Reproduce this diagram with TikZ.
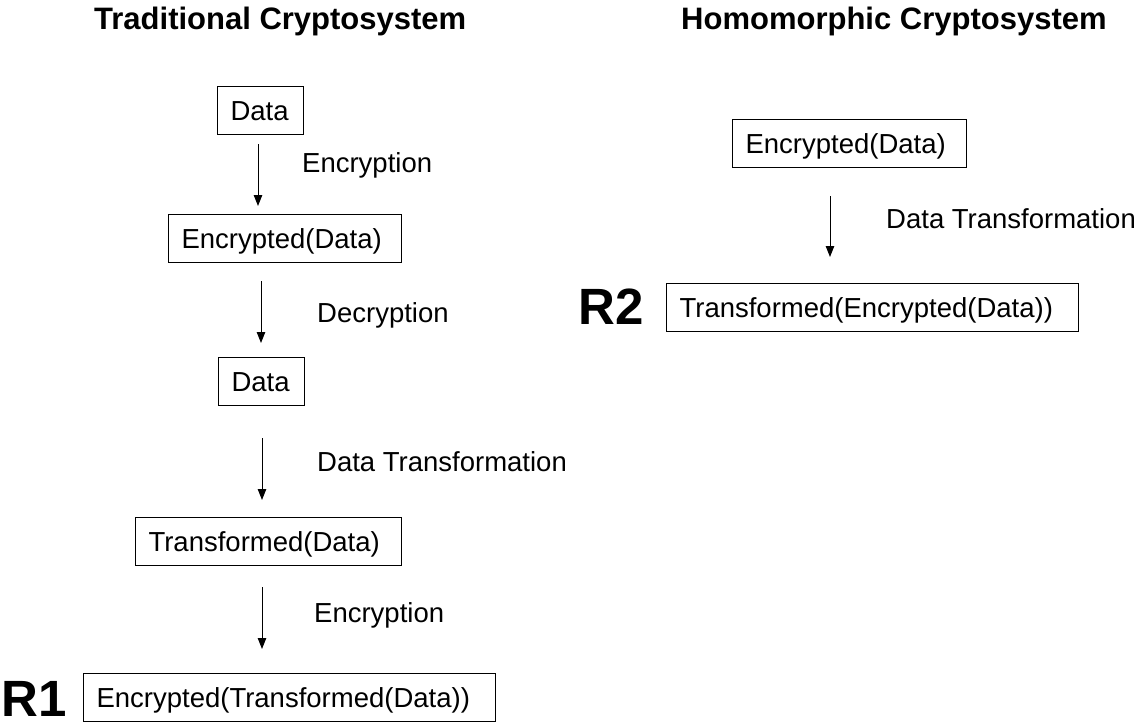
\documentclass[tikz,border=0pt]{standalone}
\usepackage{fontspec}
\setmainfont{Liberation Sans}
\usetikzlibrary{arrows.meta}
\begin{document}
\begin{tikzpicture}[x=1pt,y=-1pt,
  box/.style={draw, line width=1.1pt, anchor=north west, minimum height=48pt,
    inner xsep=13pt, inner ysep=0pt, align=left, text height=26.6pt, text depth=6.9pt,
    font=\fontsize{27.5}{33}\selectfont},
  lbl/.style={anchor=base west, inner sep=0pt, font=\fontsize{27.5}{33}\selectfont},
  ttl/.style={anchor=base west, inner sep=0pt, font=\fontsize{31}{37}\selectfont\bfseries},
  rlab/.style={anchor=base west, inner sep=0pt, text depth=0pt, font=\fontsize{51}{60}\selectfont\bfseries},
  arr/.style={-{Triangle[length=11pt,width=8.5pt]}, line width=1pt}]
\fill[white] (0,0) rectangle (1135,723);
\useasboundingbox (0,0) rectangle (1135,723);

% titles
\node[ttl] (t1title) at (94,29) {Traditional Cryptosystem};
\node[ttl] (t2title) at (681,29) {Homomorphic Cryptosystem};

% left column boxes
\node[box, text width=60pt]  (d1) at (217,86)  {Data};
\node[box, text width=207pt] (e1) at (168,214) {Encrypted(Data)};
\node[box, text width=60pt]  (d2) at (218,357) {Data};
\node[box, text width=240pt] (tr) at (135,517) {Transformed(Data)};
\node[box, text width=386pt] (r1) at (83,673)  {Encrypted(Transformed(Data))};
\node[rlab] (r1lab) at (1,716) {R1};

% right column boxes
\node[box, text width=208pt] (e2) at (732,119) {Encrypted(Data)};
\node[box, text width=386pt] (r2) at (666,283) {Transformed(Encrypted(Data))};
\node[rlab] (r2lab) at (578,324) {R2};

% arrow columns
\coordinate (cA) at (258,0);
\coordinate (cB) at (261,0);
\coordinate (cC) at (262,0);
\coordinate (cD) at (830,0);

\draw[arr, shorten <=9pt, shorten >=8pt]   (d1.south -| cA) -- (e1.north -| cA);
\draw[arr, shorten <=18pt, shorten >=14pt] (e1.south -| cB) -- (d2.north -| cB);
\draw[arr, shorten <=32pt, shorten >=17pt] (d2.south -| cC) -- (tr.north -| cC);
\draw[arr, shorten <=21pt, shorten >=24pt] (tr.south -| cC) -- (r1.north -| cC);
\draw[arr, shorten <=28pt, shorten >=26pt] (e2.south -| cD) -- (r2.north -| cD);

% arrow labels
\node[lbl] (l1) at (302,172) {Encryption};
\node[lbl] (l2) at (317,322) {Decryption};
\node[lbl] (l3) at (317,471) {Data Transformation};
\node[lbl] (l4) at (314,622) {Encryption};
\node[lbl] (l5) at (886,228) {Data Transformation};
\end{tikzpicture}
\end{document}
